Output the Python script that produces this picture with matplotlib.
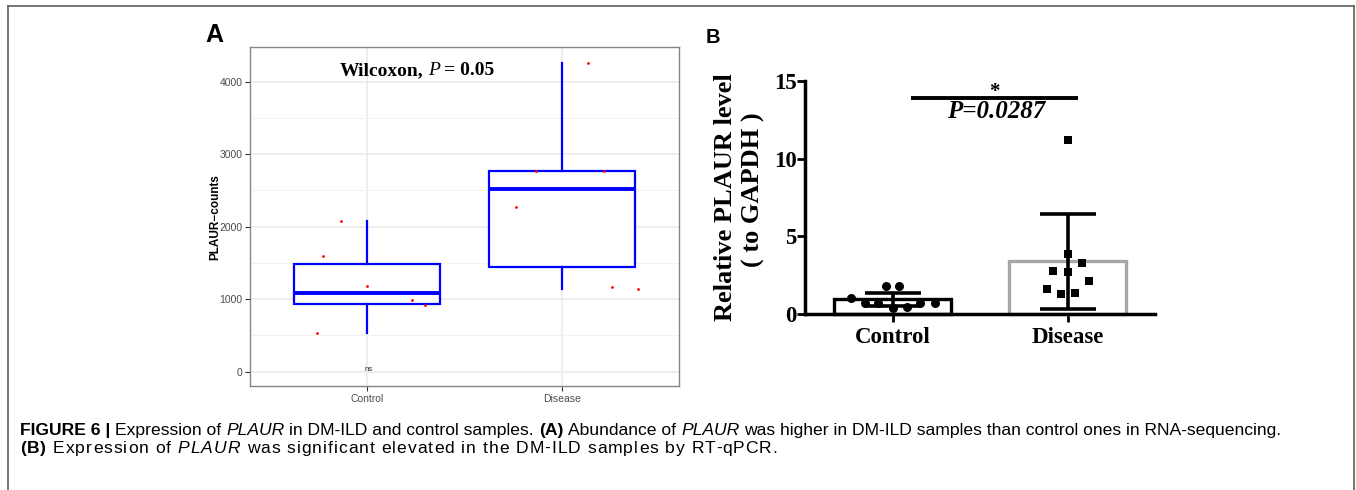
import matplotlib
matplotlib.use("Agg")
import matplotlib.pyplot as plt
import numpy as np
from matplotlib.transforms import IdentityTransform
from matplotlib.lines import Line2D

# ---------------- data ----------------
groups = ["Control", "Disease"]

# Panel A: RNA-seq counts (red jittered points)
counts_control = [538, 916, 985, 1186, 1592, 2074]
counts_disease = [1136, 1172, 2268, 2764, 2772, 4262]
jitter_control = [-0.257, 0.295, 0.232, -0.002, -0.228, -0.135]
jitter_disease = [0.389, 0.254, -0.236, -0.133, 0.213, 0.131]
a_yticks = [0, 1000, 2000, 3000, 4000]

# Panel B: RT-qPCR relative level
qpcr_control = [1.02, 1.78, 1.78, 0.72, 0.68, 0.38, 0.45, 0.69, 0.74]
qpcr_control_x = [-0.24, -0.038, 0.038, -0.158, -0.082, 0.0, 0.08, 0.156, 0.241]
qpcr_disease = [11.2, 3.84, 3.30, 2.79, 2.72, 2.14, 1.59, 1.29, 1.33]
qpcr_disease_x = [0.0, 0.0, 0.084, -0.083, 0.0, 0.123, -0.12, -0.04, 0.042]
bar_means = [0.95, 3.40]
bar_sd = [0.42, 3.06]
b_yticks = [0, 5, 10, 15]

W, H = 1356, 490
fig = plt.figure(figsize=(W / 100, H / 100), dpi=100)
fig.patch.set_facecolor("white")
SANS = ["Liberation Sans", "DejaVu Sans"]
SERIF = ["Liberation Serif", "DejaVu Serif"]
ID = IdentityTransform()

# ---------------- frame ----------------
fc = "#6A6A6A"
fig.add_artist(Line2D([8, 1354], [H - 6, H - 6], transform=ID, color=fc, lw=1.3))
fig.add_artist(Line2D([8, 8], [H - 6, 0], transform=ID, color=fc, lw=1.3))
fig.add_artist(Line2D([1354, 1354], [H - 6, 0], transform=ID, color=fc, lw=1.3))

# ---------------- Panel A ----------------
axA = fig.add_axes([250 / W, (H - 386) / H, 429 / W, 339 / H])
blue = "#0000FF"
axA.boxplot([counts_control, counts_disease], positions=[1, 2], widths=0.75,
            patch_artist=True, showcaps=False, showfliers=False,
            boxprops=dict(edgecolor=blue, facecolor="white", lw=1.6),
            medianprops=dict(color=blue, lw=2.8),
            whiskerprops=dict(color=blue, lw=1.6), zorder=2)
axA.scatter(1 + np.array(jitter_control), counts_control, s=4, color="red", lw=0, zorder=3)
axA.scatter(2 + np.array(jitter_disease), counts_disease, s=4, color="red", lw=0, zorder=3)
axA.set_xlim(0.4, 2.6)
axA.set_ylim(-197, 4479)
axA.set_yticks(a_yticks)
axA.set_yticks(np.array(a_yticks[:-1]) + 500, minor=True)
axA.set_xticks([1, 2])
axA.set_xticklabels(groups)
axA.grid(True, which="major", color="#EBEBEB", lw=1.2, zorder=0)
axA.grid(True, which="minor", axis="y", color="#F2F2F2", lw=0.7, zorder=0)
axA.set_axisbelow(True)
axA.tick_params(which="major", length=3.5, width=0.8, color="#333333",
                labelsize=7.5, labelcolor="#4D4D4D", pad=2)
axA.tick_params(which="minor", length=0)
for lab in axA.get_xticklabels() + axA.get_yticklabels():
    lab.set_family(SANS)
for s in axA.spines.values():
    s.set_color("#858585")
    s.set_linewidth(1.0)

axA.text(1.01, 37, "ns", fontsize=5.5, ha="center", va="center", color="#222222", family=SANS)
fig.text(215 / W, 1 - 217 / H, "PLAUR\u2212counts", rotation=90, ha="center", va="center",
         fontsize=8.5, fontweight="bold", family=SANS)
fig.text(205, H - 41.7, "A", transform=ID, fontsize=18, fontweight="bold", family=SANS,
         va="baseline", ha="left")

# ---------------- run helper ----------------
renderer = fig.canvas.get_renderer()


def text_width(s, **kw):
    t = fig.text(0, 0, s, transform=ID, **kw)
    w = t.get_window_extent(renderer).width
    t.remove()
    return w


def run_layout(runs, size, family, tracking=0.0):
    """Return list of (x_offset, char_or_word, kw) and total width."""
    items = []
    cur = 0.0
    for txt, weight, style in runs:
        kw = dict(fontsize=size, fontweight=weight, fontstyle=style, family=family)
        bar_w = text_width("|", **kw)
        if tracking == 0.0:
            sp = text_width("a a", **kw) - text_width("aa", **kw)
            lead = len(txt) - len(txt.lstrip(" "))
            trail = len(txt) - len(txt.rstrip(" "))
            core = txt.strip(" ")
            cur += lead * sp
            items.append((cur, core, kw))
            cur += text_width(core, **kw) + trail * sp
        else:
            for i, ch in enumerate(txt):
                off = text_width(txt[:i] + "|", **kw) - bar_w if i > 0 else 0.0
                if ch != " ":
                    items.append((cur + off + i * tracking, ch, kw))
            cur += text_width(txt + "|", **kw) - bar_w + len(txt) * tracking
    return items, cur


def draw_runs(x, y, runs, size, family, tracking=0.0, center=False):
    items, total = run_layout(runs, size, family, tracking)
    x0 = x - total / 2 if center else x
    for off, s, kw in items:
        fig.text(x0 + off, y, s, transform=ID, va="baseline", ha="left", **kw)


draw_runs(417, H - 75, [("Wilcoxon, ", "bold", "normal"), ("P", "normal", "italic"),
                        (" = 0.05", "bold", "normal")], 14, SERIF, center=True)

# ---------------- Panel B ----------------
axB = fig.add_axes([805 / W, (H - 314) / H, 350 / W, 233 / H])
axB.set_xlim(0.5, 2.5)
axB.set_ylim(0, 15)
axB.bar([1, 2], bar_means, width=0.674, color="white", edgecolor=["black", "#A6A6A6"],
        linewidth=2.4, zorder=2, clip_on=False)
axB.errorbar([1, 2], bar_means, yerr=bar_sd, fmt="none", ecolor="black", elinewidth=2.6,
             capsize=20.5, capthick=2.6, zorder=3)
axB.scatter(1 + np.array(qpcr_control_x), qpcr_control, s=42, marker="o", color="black",
            lw=0, zorder=4, clip_on=False)
axB.scatter(2 + np.array(qpcr_disease_x), qpcr_disease, s=40, marker="s", color="black",
            lw=0, zorder=4, clip_on=False)
for side in ("top", "right"):
    axB.spines[side].set_visible(False)
for side in ("left", "bottom"):
    axB.spines[side].set_linewidth(2.5)
    axB.spines[side].set_color("black")
axB.set_yticks(b_yticks)
axB.set_xticks([1, 2])
axB.set_xticklabels(groups)
axB.tick_params(axis="y", length=5.5, width=2, pad=0.5, labelsize=16.5)
axB.tick_params(axis="x", length=5.5, width=2, pad=4, labelsize=16.5)
for lab in axB.get_xticklabels() + axB.get_yticklabels():
    lab.set_family(SERIF)
    lab.set_fontweight("bold")

axB.plot([1.103, 2.061], [13.93, 13.93], color="black", lw=2.8, clip_on=False, solid_capstyle="butt")
axB.text(1.583, 14.3, "*", ha="center", va="center", fontsize=15, fontweight="bold", family=SERIF)
axB.text(1.593, 13.03, "P=0.0287", ha="center", va="center", fontsize=18, fontweight="bold",
         fontstyle="italic", family=SERIF)

fig.text(725 / W, 1 - 197 / H, "Relative PLAUR level", rotation=90, ha="center", va="center",
         fontsize=19, fontweight="bold", family=SERIF)
fig.text(753 / W, 1 - 190 / H, "( to GAPDH )", rotation=90, ha="center", va="center",
         fontsize=19, fontweight="bold", family=SERIF)
fig.text(706, H - 42.7, "B", transform=ID, fontsize=14.5, fontweight="bold", family=SANS,
         va="baseline", ha="left")

# ---------------- caption ----------------
cap1 = [("FIGURE 6 |", "bold", "normal"), (" Expression of ", "normal", "normal"),
        ("PLAUR", "normal", "italic"), (" in DM-ILD and control samples. ", "normal", "normal"),
        ("(A)", "bold", "normal"), (" Abundance of ", "normal", "normal"),
        ("PLAUR", "normal", "italic"),
        (" was higher in DM-ILD samples than control ones in RNA-sequencing.", "normal", "normal")]
cap2 = [("(B)", "bold", "normal"), (" Expression of ", "normal", "normal"),
        ("PLAUR", "normal", "italic"),
        (" was significant elevated in the DM-ILD samples by RT-qPCR.", "normal", "normal")]

_, w1 = run_layout(cap1, 11, SANS)
cap_size = 11 * 1259 / w1
draw_runs(20, H - 435, cap1, cap_size, SANS)
_, w2 = run_layout(cap2, cap_size, SANS)
n2 = sum(len(t) for t, _, _ in cap2)
draw_runs(20, H - 453, cap2, cap_size, SANS, tracking=(758 - w2) / n2)

fig.savefig("out.png", dpi=100)
